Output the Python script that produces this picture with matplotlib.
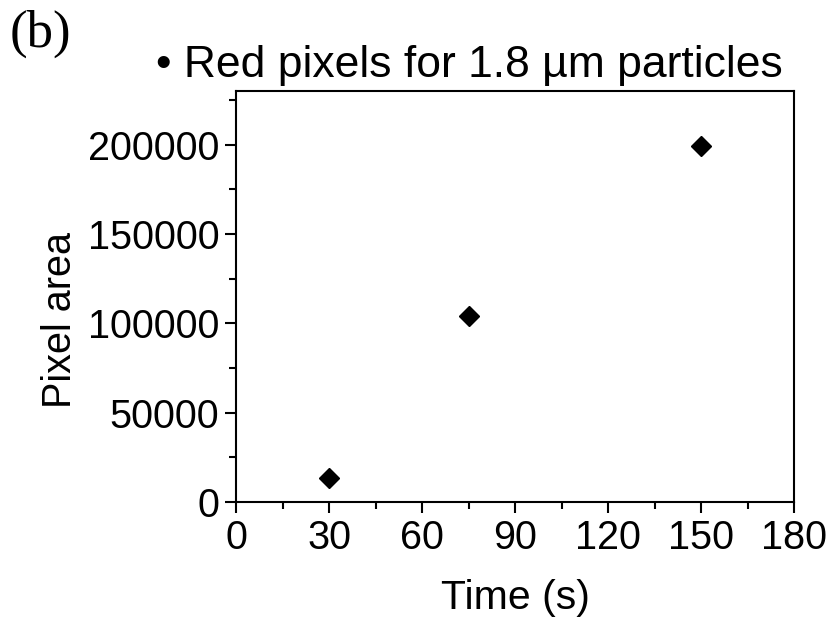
import matplotlib
matplotlib.use("Agg")
import matplotlib.pyplot as plt
from matplotlib.ticker import MultipleLocator

time_s = [30, 75, 150]
pixel_area = [13400, 104200, 199500]
x_ticks = [0, 30, 60, 90, 120, 150, 180]
y_ticks = [0, 50000, 100000, 150000, 200000]

plt.rcParams['font.family'] = ['Liberation Sans', 'DejaVu Sans']

fig = plt.figure(figsize=(8.31, 6.2), dpi=100)
ax = fig.add_axes([0.284, 0.1903, 0.6715, 0.6629])
ax.plot(time_s, pixel_area, linestyle='none', marker='D', color='black', markersize=10)
ax.set_xlim(0, 180)
ax.set_ylim(0, 230000)
ax.set_xticks(x_ticks)
ax.set_yticks(y_ticks)
ax.xaxis.set_minor_locator(MultipleLocator(15))
ax.yaxis.set_minor_locator(MultipleLocator(25000))
ax.tick_params(which='both', direction='out', top=False, right=False, labelsize=28.5, width=1.5)
ax.tick_params(which='major', length=8, pad=4)
ax.tick_params(which='minor', length=5)
for s in ax.spines.values():
    s.set_linewidth(1.5)
ax.set_xlabel('Time (s)', fontsize=29.5, labelpad=16)
ax.set_ylabel('Pixel area', fontsize=28.5)
ax.yaxis.set_label_coords(-0.281, 0.443)
ax.text(0.419, 1.063, '• Red pixels for 1.8 µm particles', fontsize=32,
        transform=ax.transAxes, ha='center', va='center')
fig.text(0.012, 0.985, '(b)', fontsize=38, family='Liberation Serif', va='top', ha='left')
fig.savefig('out.png', dpi=100)
